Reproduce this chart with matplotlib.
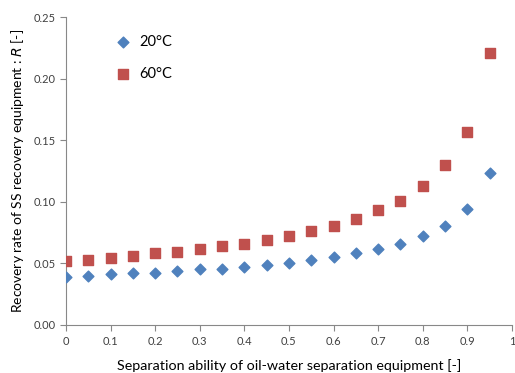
import matplotlib
matplotlib.use("Agg")
import matplotlib.pyplot as plt

# --- Data ---
x = [0, 0.05, 0.1, 0.15, 0.2, 0.25, 0.3, 0.35, 0.4, 0.45,
     0.5, 0.55, 0.6, 0.65, 0.7, 0.75, 0.8, 0.85, 0.9, 0.95]
r_20 = [0.039, 0.040, 0.041, 0.042, 0.042, 0.0435, 0.045, 0.0455, 0.047, 0.0485,
        0.0506, 0.053, 0.055, 0.058, 0.0614, 0.066, 0.072, 0.080, 0.094, 0.123]
r_60 = [0.052, 0.053, 0.054, 0.056, 0.058, 0.059, 0.062, 0.064, 0.066, 0.069,
        0.072, 0.076, 0.080, 0.086, 0.093, 0.101, 0.113, 0.130, 0.157, 0.221]

plt.rcParams["font.family"] = ["Lato", "DejaVu Sans"]

fig = plt.figure(figsize=(5.15, 3.73), dpi=100)
ax = fig.add_axes([0.128, 0.129, 0.866, 0.825])

ax.scatter(x, r_20, marker="D", s=30, color="#4F81BD", label="20\u00b0C", zorder=3)
ax.scatter(x, r_60, marker="s", s=55, color="#C0504D", label="60\u00b0C", zorder=3)

ax.set_xlim(0, 1)
ax.set_ylim(0, 0.25)
ax.set_xticks([0, 0.1, 0.2, 0.3, 0.4, 0.5, 0.6, 0.7, 0.8, 0.9, 1])
ax.set_xticklabels(["0", "0.1", "0.2", "0.3", "0.4", "0.5", "0.6", "0.7", "0.8", "0.9", "1"])
ax.set_yticks([0, 0.05, 0.1, 0.15, 0.2, 0.25])
ax.set_yticklabels(["0.00", "0.05", "0.10", "0.15", "0.20", "0.25"])

for side in ["top", "right"]:
    ax.spines[side].set_visible(False)
for side in ["left", "bottom"]:
    ax.spines[side].set_color("#888888")
    ax.spines[side].set_linewidth(0.8)
ax.tick_params(colors="#888888", labelcolor="#404040", labelsize=8, length=4, width=0.8)
ax.tick_params(axis="x", pad=4)

ax.set_xlabel("Separation ability of oil-water separation equipment [-]", fontsize=10.3, labelpad=9)
ax.set_ylabel("Recovery rate of SS recovery equipment : $R$ [-]", fontsize=10, labelpad=5)

ax.legend(loc="upper left", bbox_to_anchor=(0.08, 0.965), frameon=False, fontsize=10.5,
          handletextpad=0.1, labelspacing=1.2, borderpad=0)

fig.savefig("out.png", dpi=100)
